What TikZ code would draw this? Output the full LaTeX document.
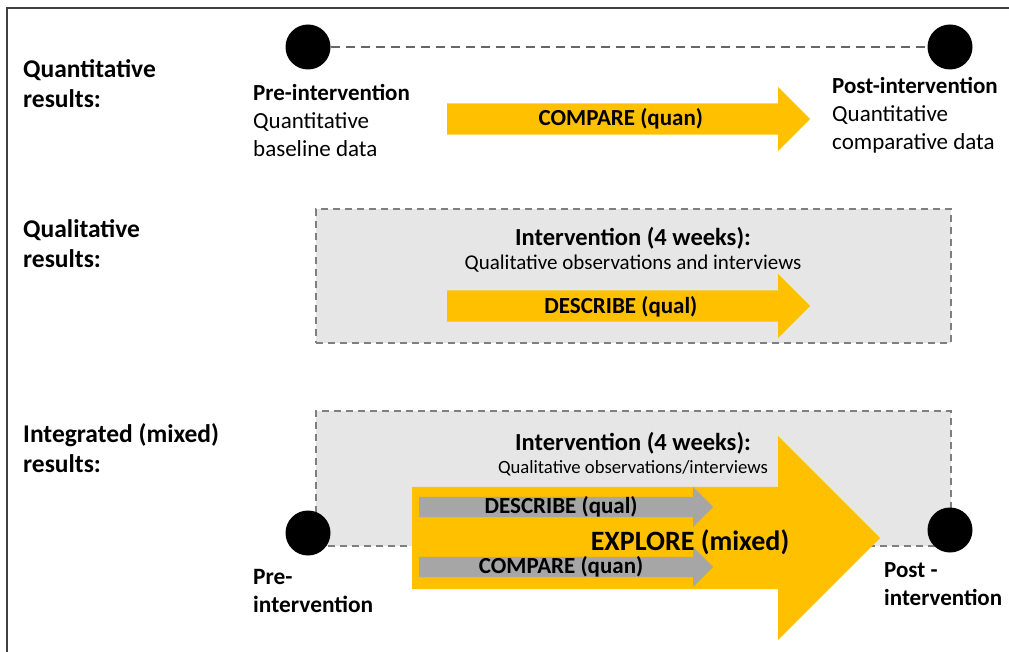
\documentclass[tikz,border=0pt]{standalone}
\usepackage{fontspec}
\setmainfont{Carlito}
\usetikzlibrary{shapes.arrows}
\definecolor{gold}{HTML}{FFC000}
\definecolor{boxgray}{HTML}{E7E6E6}
\definecolor{dashgray}{HTML}{7F7F7F}
\definecolor{arrowgray}{HTML}{A6A6A6}

\begin{document}
\begin{tikzpicture}[x=1pt,y=-1pt,
    every node/.style={inner sep=0pt, font=\fontsize{23}{28}\selectfont},
    rowlabel/.style={anchor=north west, align=left, font=\fontsize{25.5}{30}\selectfont\bfseries},
    timelabel/.style={anchor=north west, align=left, font=\fontsize{23}{28}\selectfont},
    dot/.style={circle, fill=black, minimum size=45pt},
    phase/.style={anchor=north west, fill=boxgray, draw=dashgray, line width=1.6pt,
                  dash pattern=on 7pt off 5pt, minimum width=635pt, minimum height=134pt},
    goldarrow/.style={single arrow, fill=gold, anchor=tail, inner ysep=8.5pt,
                  single arrow head extend=16.5pt, minimum height=363pt,
                  text height=14pt, text depth=0pt, font=\fontsize{23}{28}\selectfont\bfseries},
    grayarrow/.style={single arrow, fill=arrowgray, anchor=tail, inner ysep=3.5pt,
                  single arrow head extend=10pt, minimum height=294pt,
                  text height=13pt, text depth=0pt, font=\fontsize{23}{28}\selectfont\bfseries}]
\useasboundingbox (0,0) rectangle (1009,652);
\draw[line width=1.4pt, black!75] (7,660) |- (1015,8);

% quantitative row
\node[rowlabel] (quanlbl) at (23,59) {Quantitative\\results:};
\node[dot] (pre1) at (308,47) {};
\node[dot] (post1) at (950,47) {};
\draw[black!60, line width=2pt, dash pattern=on 9pt off 6pt] (pre1) -- (post1);
\node[timelabel] (pretxt) at (253,84) {\textbf{Pre-intervention}\\Quantitative\\baseline data};
\node[timelabel] (posttxt) at (832,77) {\textbf{Post-intervention}\\Quantitative\\comparative data};
\node[goldarrow] (compare) at (447,119) {COMPARE (quan)};

% qualitative row
\node[rowlabel] (quallbl) at (23,219) {Qualitative\\results:};
\node[phase] (qualbox) at (315,208) {};
\node[anchor=base, font=\fontsize{24.5}{28}\selectfont\bfseries] (qualhead) at (633,246) {Intervention (4 weeks):};
\node[anchor=base, font=\fontsize{21}{24}\selectfont] (qualsub) at (633,270) {Qualitative observations and interviews};
\node[goldarrow] (describe) at (447,306) {DESCRIBE (qual)};

% integrated row
\node[rowlabel] (mixlbl) at (23,423) {Integrated (mixed)\\results:};
\node[phase, minimum height=135pt] (mixbox) at (315,410) {};
\node[anchor=base, font=\fontsize{24.5}{28}\selectfont\bfseries] (mixhead) at (633,450) {Intervention (4 weeks):};
\node[anchor=base, font=\fontsize{18.7}{22}\selectfont] (mixsub) at (633,473) {Qualitative observations/interviews};
\node[dot] (pre2) at (308,533) {};
\node[dot] (post2) at (950,530) {};
\node[single arrow, fill=gold, anchor=tail, inner ysep=51pt, text height=0pt, text depth=0pt,
      single arrow head extend=51pt, minimum height=468pt] (explore) at (412,538) {};
\node[grayarrow] (describe2) at (419,507) {DESCRIBE (qual)};
\node[grayarrow] (compare2) at (419,567) {COMPARE (quan)};
\node[anchor=base, font=\fontsize{28}{32}\selectfont\bfseries] (exploretxt) at (690,550) {EXPLORE (mixed)};
\node[timelabel, font=\fontsize{23.4}{28}\selectfont\bfseries] (pre2txt) at (253,569) {Pre-\\intervention};
\node[timelabel, font=\fontsize{23}{28}\selectfont\bfseries] (post2txt) at (884,562) {Post -\\intervention};
\end{tikzpicture}
\end{document}
